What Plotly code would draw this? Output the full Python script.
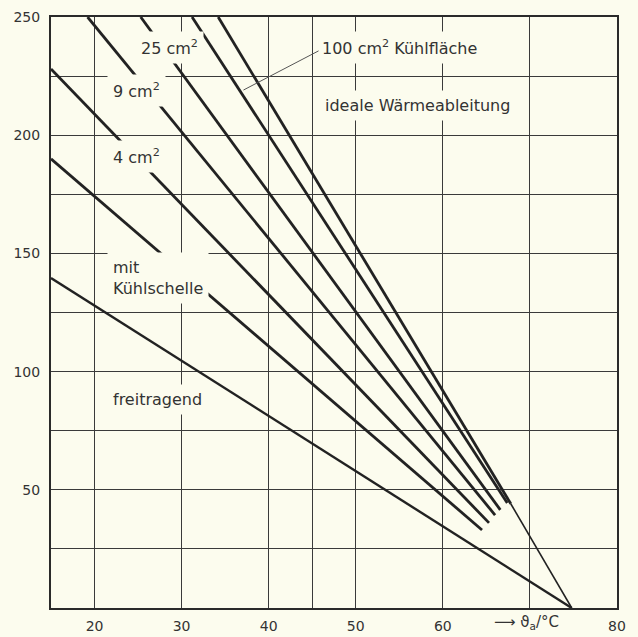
import plotly.graph_objects as go

# ---- data ----
series_names = ["freitragend", "mit Kühlschelle", "4 cm²", "9 cm²", "25 cm²", "100 cm²", "ideal"]
temp_start = [15.0, 15.0, 15.0, 19.2, 25.3, 31.2, 34.2]
temp_end = [74.8, 64.5, 65.3, 66.0, 66.6, 67.4, 67.8]
value_start = [139.6, 190.0, 228.0, 250.0, 250.0, 250.0, 250.0]
value_end = [0.0, 33.0, 36.0, 39.3, 41.5, 44.4, 44.1]
ideal_tail_x = [67.8, 74.8]
ideal_tail_y = [44.1, 0.0]

x_tickvals = [20, 30, 40, 45, 50, 60, 70, 80]
x_ticktext = ["20", "30", "40", "", "50", "60", "", "80"]
x_axis_title = "\u27f6 \u03d1<sub>a</sub>/°C"
x_axis_title_pos = 69.6
y_tickvals = [0, 25, 50, 75, 100, 125, 150, 175, 200, 225, 250]
y_ticktext = ["", "", "50", "", "100", "", "150", "", "200", "", "250"]

labels = [
    ("25 cm<sup>2</sup>", 25.2, 237.3),
    ("9 cm<sup>2</sup>", 22.0, 219.0),
    ("4 cm<sup>2</sup>", 22.0, 190.8),
    ("mit<br>Kühlschelle", 22.0, 139.8),
    ("freitragend", 22.0, 88.4),
    ("100 cm<sup>2</sup> Kühlfläche", 46.0, 236.9),
    ("ideale Wärmeableitung", 46.3, 212.4),
]
leader_from = (45.9, 236.0)
leader_to = (37.1, 219.1)

BG = "#fcfcee"
INK = "#222222"
FONT = "DejaVu Sans, Liberation Sans, sans-serif"

fig = go.Figure()
for i, name in enumerate(series_names):
    fig.add_trace(go.Scatter(
        x=[temp_start[i], temp_end[i]], y=[value_start[i], value_end[i]],
        mode="lines", name=name,
        line=dict(color=INK, width=2.4 if i == 0 else 2.8),
        showlegend=False, hoverinfo="skip"))
fig.add_trace(go.Scatter(x=ideal_tail_x, y=ideal_tail_y, mode="lines",
                         line=dict(color=INK, width=1.6), showlegend=False, hoverinfo="skip"))

PAD = 5
for text, x, y in labels:
    fig.add_annotation(x=x, y=y, xref="x", yref="y", text=text, showarrow=False,
                       xanchor="left", yanchor="middle", align="left",
                       xshift=-PAD, bgcolor=BG, borderpad=PAD,
                       font=dict(family=FONT, size=16, color="#333333"))

fig.add_annotation(x=leader_to[0], y=leader_to[1], ax=leader_from[0], ay=leader_from[1],
                   xref="x", yref="y", axref="x", ayref="y", text="", showarrow=True,
                   arrowhead=0, arrowwidth=1, arrowcolor="#555555")

fig.add_annotation(x=x_axis_title_pos, y=0, xref="x", yref="paper", text=x_axis_title,
                   showarrow=False, xanchor="center", yanchor="top", yshift=-3,
                   font=dict(family=FONT, size=15, color="#333333"))

fig.update_layout(
    width=638, height=637,
    margin=dict(l=51, r=21, t=17, b=29),
    paper_bgcolor=BG, plot_bgcolor=BG,
    font=dict(family=FONT, size=14, color="#333333"),
)
fig.update_xaxes(range=[15, 80], tickvals=x_tickvals, ticktext=x_ticktext,
                 showgrid=True, gridcolor="#3a3a3a", gridwidth=1.4,
                 showline=True, linecolor="#2a2a2a", linewidth=2, mirror=True,
                 zeroline=False, ticks="", tickfont=dict(size=14), ticklabelstandoff=4,
                 automargin=False)
fig.update_yaxes(range=[0, 250], tickvals=y_tickvals, ticktext=y_ticktext,
                 showgrid=True, gridcolor="#3a3a3a", gridwidth=1.4,
                 showline=True, linecolor="#2a2a2a", linewidth=2, mirror=True,
                 zeroline=False, ticks="", tickfont=dict(size=14), ticklabelstandoff=6,
                 automargin=False)

fig.write_html("out.html", config={"displayModeBar": False},
               post_script="document.body.style.margin='0';document.body.style.background='" + BG + "';")
